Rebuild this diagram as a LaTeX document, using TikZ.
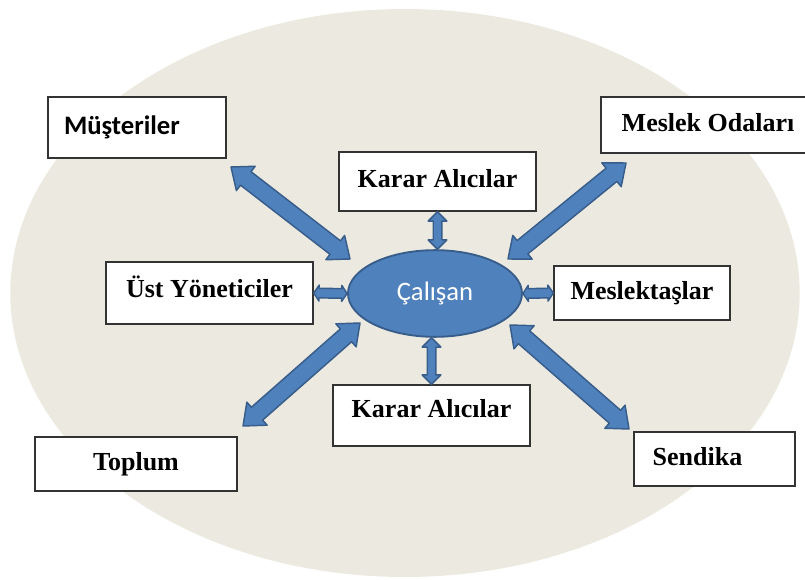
\documentclass[tikz,border=0pt]{standalone}
\usepackage{fontspec}
\setmainfont{Liberation Serif}
\newfontfamily\calfont{Carlito}
\usepackage{xcolor}
\usepackage{tikz}
\usetikzlibrary{positioning, arrows.meta, calc, shapes.geometric}

\definecolor{bgbeige}{RGB}{236,234,224}
\definecolor{arrowblue}{RGB}{79,129,189}
\definecolor{arrowedge}{RGB}{56,93,138}

\tikzset{
  box/.style={draw=black!80, line width=1.1pt, fill=white, inner sep=0pt,
    font=\fontsize{19.5}{22}\selectfont\bfseries},
  blockarrow/.style={fill=arrowblue, draw=arrowedge, line width=1.1pt, line join=round}
}

% #1 from, #2 to, #3 shaft half width, #4 head half width, #5 head length
\newcommand{\dblarrow}[5]{%
  \path ($(#1)!#5!(#2)$) coordinate (ba) ($(#2)!#5!(#1)$) coordinate (bb);
  \draw[blockarrow] (#1) -- ($(ba)!#4!90:(#2)$) -- ($(ba)!#3!90:(#2)$)
    -- ($(bb)!#3!-90:(#1)$) -- ($(bb)!#4!-90:(#1)$) -- (#2)
    -- ($(bb)!#4!90:(#1)$) -- ($(bb)!#3!90:(#1)$)
    -- ($(ba)!#3!-90:(#2)$) -- ($(ba)!#4!-90:(#2)$) -- cycle;
}

\begin{document}
\begin{tikzpicture}[x=0.75pt, y=-0.75pt]
\useasboundingbox (0,0) rectangle (805,580);
\fill[white] (0,0) rectangle (805,580);
\fill[bgbeige] (405,293) ellipse [x radius=296pt, y radius=213pt];

\node[ellipse, fill=arrowblue, draw=arrowedge, line width=1.4pt, inner sep=0pt,
  minimum width=130.5pt, minimum height=65pt, text=white,
  font=\calfont\fontsize{20}{22}\selectfont] (cal) at (435,293.5) {Çalışan};

\node[box, minimum width=133.5pt, minimum height=45.75pt, text width=109.5pt,
  align=left, font=\calfont\fontsize{20}{22}\selectfont\bfseries] (mus) at (137,127.5) {Müşteriler\vphantom{p}};
\node[box, minimum width=160.5pt, minimum height=42pt] (mes) at (708,125) {Meslek Odaları\vphantom{p}};
\node[box, minimum width=147.75pt, minimum height=44.25pt] (kar1) at (437.5,181.5) {Karar Alıcılar\vphantom{p}};
\node[box, minimum width=155.25pt, minimum height=46.5pt] (ust) at (209.5,293) {Üst Yöneticiler\raisebox{-6pt}{\vphantom{p}}};
\node[box, minimum width=132pt, minimum height=40.5pt] (mlk) at (642,293) {Meslektaşlar};
\node[box, minimum width=147.75pt, minimum height=45.75pt] (kar2) at (431.5,415.5) {Karar Alıcılar\raisebox{-6pt}{\vphantom{p}}};
\node[box, minimum width=151.5pt, minimum height=40.5pt] (top) at (136,464) {Toplum};
\node[box, minimum width=120.75pt, minimum height=40.5pt, text width=92.75pt,
  align=left] (sen) at (714.5,459) {Sendika\vphantom{p}};

\coordinate (mus-e) at (231,167);
\coordinate (mus-c) at (350,259);
\coordinate (mes-e) at (626,163);
\coordinate (mes-c) at (508,259);
\coordinate (top-e) at (243,426);
\coordinate (top-c) at (360,323);
\coordinate (sen-e) at (629,429);
\coordinate (sen-c) at (510,325);

\dblarrow{mus-e}{mus-c}{6.4pt}{11.5pt}{14pt}
\dblarrow{mes-e}{mes-c}{6.4pt}{11.5pt}{14pt}
\dblarrow{top-e}{top-c}{6.4pt}{11.5pt}{14pt}
\dblarrow{sen-e}{sen-c}{6.4pt}{11.5pt}{14pt}

\dblarrow{kar1.south}{kar1.south |- cal.north}{3.2pt}{7pt}{7pt}
\dblarrow{kar2.north}{kar2.north |- cal.south}{3.2pt}{7pt}{7pt}
\dblarrow{ust.east}{cal.west}{3.6pt}{6pt}{4pt}
\dblarrow{mlk.west}{cal.east}{3.6pt}{6pt}{4pt}
\end{tikzpicture}
\end{document}
